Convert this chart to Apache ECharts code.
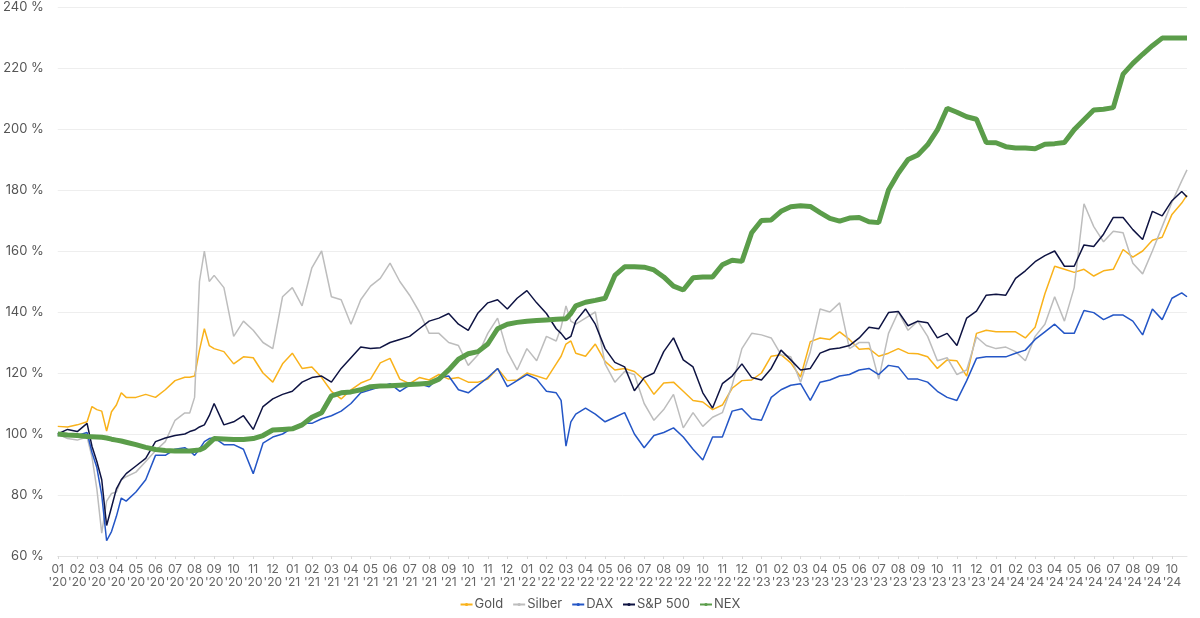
<!DOCTYPE html>
<html>
<head>
<meta charset="utf-8">
<script src="https://cdn.jsdelivr.net/npm/echarts@6/dist/echarts.min.js"></script>
<style>
html,body{margin:0;padding:0;background:#fff;}
#chart{width:1200px;height:618px;}
</style>
</head>
<body>
<div id="chart"></div>
<script>
// Month labels (tick labels), one per month from 01 '20 to 10 '24
const monthLabels = ["01\n'20","02\n'20","03\n'20","04\n'20","05\n'20","06\n'20","07\n'20","08\n'20","09\n'20","10\n'20","11\n'20","12\n'20",
"01\n'21","02\n'21","03\n'21","04\n'21","05\n'21","06\n'21","07\n'21","08\n'21","09\n'21","10\n'21","11\n'21","12\n'21",
"01\n'22","02\n'22","03\n'22","04\n'22","05\n'22","06\n'22","07\n'22","08\n'22","09\n'22","10\n'22","11\n'22","12\n'22",
"01\n'23","02\n'23","03\n'23","04\n'23","05\n'23","06\n'23","07\n'23","08\n'23","09\n'23","10\n'23","11\n'23","12\n'23",
"01\n'24","02\n'24","03\n'24","04\n'24","05\n'24","06\n'24","07\n'24","08\n'24","09\n'24","10\n'24"];

// Sample positions in months since Jan 2020
const monthPos = [0,0.5,1,1.5,1.75,2,2.25,2.5,2.75,3,3.25,3.5,
4,4.5,5,5.5,6,6.5,6.75,7,7.25,7.5,7.75,8,
8.5,9,9.5,10,10.5,11,11.5,12,12.5,13,13.5,14,14.5,15,15.5,16,16.5,17,17.5,18,18.5,19,19.5,20,20.5,21,21.5,22,22.5,23,23.5,24,24.5,25,25.5,
25.75,26,26.25,26.5,
27,27.5,28,28.5,29,29.5,30,30.5,31,31.5,32,32.5,33,33.5,34,34.5,35,35.5,36,36.5,37,37.5,38,38.5,39,39.5,40,40.5,41,41.5,42,42.5,43,43.5,44,44.5,45,45.5,46,46.5,47,47.5,48,48.5,49,49.5,50,50.5,51,51.5,52,52.5,53,53.5,54,54.5,55,55.5,56,56.5,57,57.5,
57.77];

const gold = [102.5,102.3,103,104,109,108,107.5,101,107.3,109.5,113.5,112,
112,113,112,114.5,117.5,118.6,118.6,119,127.5,134.5,129,128,
127,123,125.3,125,120,117,123,126.5,121.5,122,118.5,114,111.5,114.5,116.7,118,123.3,124.8,118,116.5,118.5,117.7,119.5,118,118.5,117,117,118,121.5,117.5,117.7,120,119,118,123,
125.5,129.5,130.5,126.5,
125.5,129.5,123.8,121,121.5,120.5,117.7,113,116.7,117,114,111,110.5,108,109.5,115,117.5,117.7,120,125.5,126,123.3,118.7,130.3,131.5,131,133.5,131,127.8,128,125.5,126.5,128,126.5,126.3,125.3,121.5,124.3,124,119,133,134,133.5,133.5,133.5,131.5,135,146,155,154,153,154,151.8,153.5,154,160.5,158,160,163.5,164.5,172,175.7,
178.3];

const silber = [100,98.5,98,99,92.5,82,67.5,78,80.5,81,85,86,
87.5,91,94.5,97.5,104.5,106.9,106.9,112,150,160,150,152,
148,132,137,134,130,128,145,148,142,154.5,160,145,144,136,144,148.5,151,156,150,145.5,140,133,133,130,129,122.5,126,133,138,127,121,128,124,132,130.5,
135,142,137,136,
138,140,123,117,120.5,119.5,110,104.5,108,113,102,107,102.5,105.5,107,116,128,133,132.5,131.5,126,125.3,117,127,141,140,143,128,130,130,118,133,140,134,137,132,124,125,119.5,121,131.8,129,128,128.5,127,124,132,136,145,137,148,175.5,168,163,166.5,166,156,152.5,160,168,176,183,
186.6];

const dax = [99.5,100,99.5,100.5,94,89,80,65,68,73,79,78,
81,85,93,93,95,95.5,94.5,93,95,97.5,98.5,98.8,
96.5,96.5,95,87,97,99,100,102,103.5,103.5,105,106,107.5,110,113.5,114.5,115.5,116.5,114,116,116.5,115.5,118.5,119,114.5,113.5,116,118.5,121.5,115.5,117.5,119.5,118,114,113.5,
111,96,104,106.5,
108.5,106.5,104,105.5,107,100,95.5,99.5,100.5,102,99,95,91.5,99,99,107.5,108.3,105,104.5,112,114.5,116,116.5,111,117,117.7,119,119.5,121,121.5,119.5,122.5,122,118,118,117,114,112,111,117.5,124.8,125.3,125.3,125.3,126.5,127.5,131,133.5,136,133,133,140.5,139.8,137.5,139,139,137,132.5,141,137.5,144.5,146.3,
145];

const sp500 = [100,101.5,100.8,103.5,96,91,85,70,76,82,85,87,
89.5,92,97.5,98.7,99.5,100,100.8,101.3,102.3,103,106,110,
103,104,106,101.5,109,111.5,113,114,117,118.5,119,117,121.5,125,128.5,128,128.3,130,131,132,134.5,137,138,139.5,136,134,139.7,143,144,141,144.5,147,143,139.5,134.5,
133,131,132,137,
141,136,128,123.5,122,114.2,118.5,120,127,131.5,124.3,122,113.5,108.5,116.5,119,123,118.5,117.7,121.5,127.5,124.3,121,121.5,126.5,127.8,128.2,129,131.5,135,134.5,139.8,140.2,135.5,137,136.5,131.5,133,129,138,140.3,145.5,145.8,145.5,151,153.5,156.5,158.5,160,155,155,162,161.5,165.5,171,171,167,163.8,173,171.5,176.5,179.5,
177.7];

const nex = [100,99.7,99.5,99.2,99.1,99,98.9,98.7,98.3,98,97.7,97.3,
96.5,95.6,94.9,94.6,94.4,94.4,94.4,94.6,94.8,95.5,97,98.5,
98.4,98.2,98.2,98.5,99.5,101.3,101.5,101.7,103,105.5,107,112.5,113.5,113.8,114.5,115.5,115.7,115.8,116,116.2,116.4,116.6,118,121,124.5,126.3,127,129.5,134.5,136,136.6,137,137.2,137.4,137.6,
137.7,137.8,139.5,142,
143.2,143.8,144.5,152,154.8,154.8,154.7,153.8,151.5,148.5,147.2,151.2,151.5,151.5,155.5,157,156.6,166,170,170.2,173,174.5,174.8,174.6,172.6,170.7,169.8,170.8,171,169.6,169.3,180,185.5,190,191.5,194.8,199.7,206.8,205.5,204,203.2,195.6,195.5,194.2,193.8,193.8,193.5,195,195.2,195.6,199.8,203,206.2,206.5,207,218,221.5,224.5,227.3,229.8,229.8,229.8,
229.8];

const seriesNames = ['Gold','Silber','DAX','S&P 500','NEX'];
const seriesColors = ['#F9B21B','#BDBDBD','#2456C6','#0E1342','#5B9D4A'];
const seriesValues = [gold, silber, dax, sp500, nex];

function pairs(vals){ return vals.map((v,i)=>[monthPos[i], v]); }

const chart = echarts.init(document.getElementById('chart'), null, {renderer:'canvas'});
const FONT = 'Inter, "Noto Sans", sans-serif';

chart.setOption({
  animation:false,
  backgroundColor:'#ffffff',
  grid:{left:57, right:13, top:7, bottom:62, containLabel:false},
  legend:{
    data:seriesNames,
    top:593,
    left:'center',
    itemWidth:12,
    itemHeight:4,
    itemGap:9,
    textStyle:{fontFamily:FONT, fontSize:13, color:'#555', padding:[0,0,0,-3]}
  },
  xAxis:{
    type:'value', min:0, max:57.77, interval:1,
    axisLine:{show:true, lineStyle:{color:'#e4e4e4'}},
    axisTick:{show:true, length:3, lineStyle:{color:'#d8d8d8'}},
    splitLine:{show:false},
    axisLabel:{
      fontFamily:FONT, fontSize:12, color:'#666', lineHeight:13, margin:7,
      showMaxLabel:false,
      formatter:function(v){ return Number.isInteger(v) && monthLabels[v] ? monthLabels[v] : ''; }
    }
  },
  yAxis:{
    type:'value', min:60, max:240, interval:20,
    axisLine:{show:false}, axisTick:{show:false},
    splitLine:{lineStyle:{color:'#eeeeee'}},
    axisLabel:{fontFamily:FONT, fontSize:13, color:'#555', margin:14, formatter:'{value} %'}
  },
  series: seriesNames.map((name,i)=>({
    name:name,
    type:'line',
    data:pairs(seriesValues[i]),
    symbol:'none',
    showSymbol:false,
    color:seriesColors[i],
    lineStyle:{color:seriesColors[i], width: name==='NEX' ? 5 : 1.5},
    itemStyle:{color:seriesColors[i]},
    z: i+2
  }))
});
</script>
</body>
</html>
